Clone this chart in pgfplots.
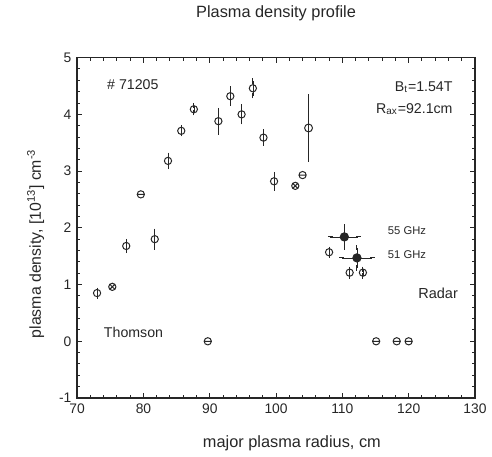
\documentclass[border=0pt]{standalone}
\usepackage{fontspec}
\setmainfont{Liberation Sans}
\usepackage{pgfplots}
\pgfplotsset{compat=1.18}

% circle with a horizontal bar
\pgfdeclareplotmark{ominus}{%
  \pgfpathcircle{\pgfpointorigin}{\pgfplotmarksize}%
  \pgfpathmoveto{\pgfqpoint{-\pgfplotmarksize}{0pt}}%
  \pgfpathlineto{\pgfqpoint{\pgfplotmarksize}{0pt}}%
  \pgfusepath{stroke}}

\definecolor{ink}{HTML}{262626}

\begin{document}
\begin{tikzpicture}
\begin{axis}[
  name=ax,
  scale only axis,
  width=241.2pt, height=206.4pt,
  xmin=70, xmax=130, ymin=-1, ymax=5,
  xtick={70,80,...,130}, ytick={-1,0,...,5},
  minor x tick num=4, minor y tick num=4,
  tick align=inside,
  major tick length=3.2pt, minor tick length=2pt,
  axis line style={line width=0.9pt},
  tick style={line width=0.6pt},
  tick label style={font=\fontsize{8.4}{10}\selectfont, text=ink},
  /pgf/number format/assume math mode=true,
  clip=false,
  title={Plasma density profile},
  title style={at={(0.5,1)}, anchor=center, yshift=21pt, font=\fontsize{9.9}{12}\selectfont, text=ink},
  xlabel={major plasma radius, cm},
  xlabel style={at={(0.5,0)}, anchor=center, yshift=-27.6pt, xshift=9.6pt, font=\fontsize{9.9}{12}\selectfont, text=ink},
]

% Thomson, with error bars
\addplot[only marks, mark=o, mark size=2.2pt, ink, line width=0.6pt,
  error bars/.cd, y dir=both, y explicit,
  error mark options={mark size=1.6pt, line width=0.6pt}]
  table[x=x, y=y, y error=e]{
  x     y     e
  73.0  0.85  0.05
  77.4  1.68  0.08
  81.7  1.80  0.14
  83.7  3.18  0.10
  85.7  3.71  0.05
  87.6  4.09  0.06
  91.3  3.88  0.19
  93.1  4.32  0.13
  94.8  4.00  0.13
  96.5  4.46  0.13
  98.1  3.59  0.10
  99.7  2.82  0.12
  108.0 1.57  0.05
  111.1 1.21  0.06
  113.1 1.21  0.06
};

% circle with bar
\addplot[only marks, mark=ominus, mark size=2.2pt, ink, line width=0.6pt]
  coordinates {(79.6,2.59) (89.7,0) (104.0,2.93) (115.1,0) (118.2,0) (120.0,0)};

% crossed circles
\addplot[only marks, mark=otimes, mark size=2.2pt, ink, line width=0.6pt]
  coordinates {(75.3,0.96) (102.9,2.74)};

% single point with large error
\addplot[only marks, mark=o, mark size=2.4pt, ink, line width=0.6pt,
  mark options={fill=white},
  error bars/.cd, y dir=both, y explicit,
  error mark options={mark size=1.6pt, line width=0.6pt}]
  coordinates {(104.9,3.76) +- (0,0.55)};

% Radar
\addplot[only marks, mark=*, mark size=2.5pt, ink, line width=0.6pt,
  error bars/.cd, x dir=both, x explicit, y dir=both, y explicit,
  error mark options={mark size=1.6pt, line width=0.6pt}]
  coordinates {(110.3,1.84) +- (2.1,0.18) (112.2,1.47) +- (2.3,0.18)};

% frame and tick marks on all four sides
\draw[ink, line width=0.9pt] (rel axis cs:0,0) rectangle (rel axis cs:1,1);
\pgfplotsinvokeforeach{72,74,76,78,80,82,84,86,88,90,92,94,96,98,100,102,104,106,108,110,112,114,116,118,120,122,124,126,128}{
  \draw[ink, line width=0.6pt] (axis cs:#1,-1) -- (axis cs:#1,-0.942);
  \draw[ink, line width=0.6pt] (axis cs:#1,5) -- (axis cs:#1,4.942);
}
\pgfplotsinvokeforeach{80,90,100,110,120}{
  \draw[ink, line width=0.6pt] (axis cs:#1,-1) -- (axis cs:#1,-0.907);
  \draw[ink, line width=0.6pt] (axis cs:#1,5) -- (axis cs:#1,4.907);
}
\pgfplotsinvokeforeach{-0.8,-0.6,-0.4,-0.2,0,0.2,0.4,0.6,0.8,1,1.2,1.4,1.6,1.8,2,2.2,2.4,2.6,2.8,3,3.2,3.4,3.6,3.8,4,4.2,4.4,4.6,4.8}{
  \draw[ink, line width=0.6pt] (axis cs:70,#1) -- (axis cs:70.4975,#1);
  \draw[ink, line width=0.6pt] (axis cs:130,#1) -- (axis cs:129.5025,#1);
}
\pgfplotsinvokeforeach{0,1,2,3,4}{
  \draw[ink, line width=0.6pt] (axis cs:70,#1) -- (axis cs:70.796,#1);
  \draw[ink, line width=0.6pt] (axis cs:130,#1) -- (axis cs:129.204,#1);
}

\node[ink, font=\fontsize{8.6}{10}\selectfont] at (axis cs:78.4,4.52) {\# 71205};
\node[ink, font=\fontsize{8.6}{10}\selectfont, anchor=east] at (axis cs:127.5,4.48) {B\textsubscript{t}=1.54T};
\node[ink, font=\fontsize{8.6}{10}\selectfont, anchor=east] at (axis cs:127.5,4.09) {R\textsubscript{ax}=92.1cm};
\node[ink, font=\fontsize{6.8}{8}\selectfont, anchor=west] at (axis cs:116.0,1.95) {55 GHz};
\node[ink, font=\fontsize{6.8}{8}\selectfont, anchor=west] at (axis cs:116.0,1.53) {51 GHz};
\node[ink, font=\fontsize{8.8}{10}\selectfont, anchor=east] at (axis cs:128.3,0.85) {Radar};
\node[ink, font=\fontsize{8.6}{10}\selectfont] at (axis cs:78.5,0.15) {Thomson};
\end{axis}

\node[ink, rotate=90, font=\fontsize{9.6}{12}\selectfont]
  at ([xshift=-25.2pt, yshift=-9.6pt]ax.west)
  {plasma density, [10\textsuperscript{13}] cm\textsuperscript{-3}};

% page frame
\path ([xshift=-46.8pt, yshift=-35.4pt]ax.south west)
  rectangle ([xshift=7.2pt, yshift=31.2pt]ax.north east);
\end{tikzpicture}
\end{document}
